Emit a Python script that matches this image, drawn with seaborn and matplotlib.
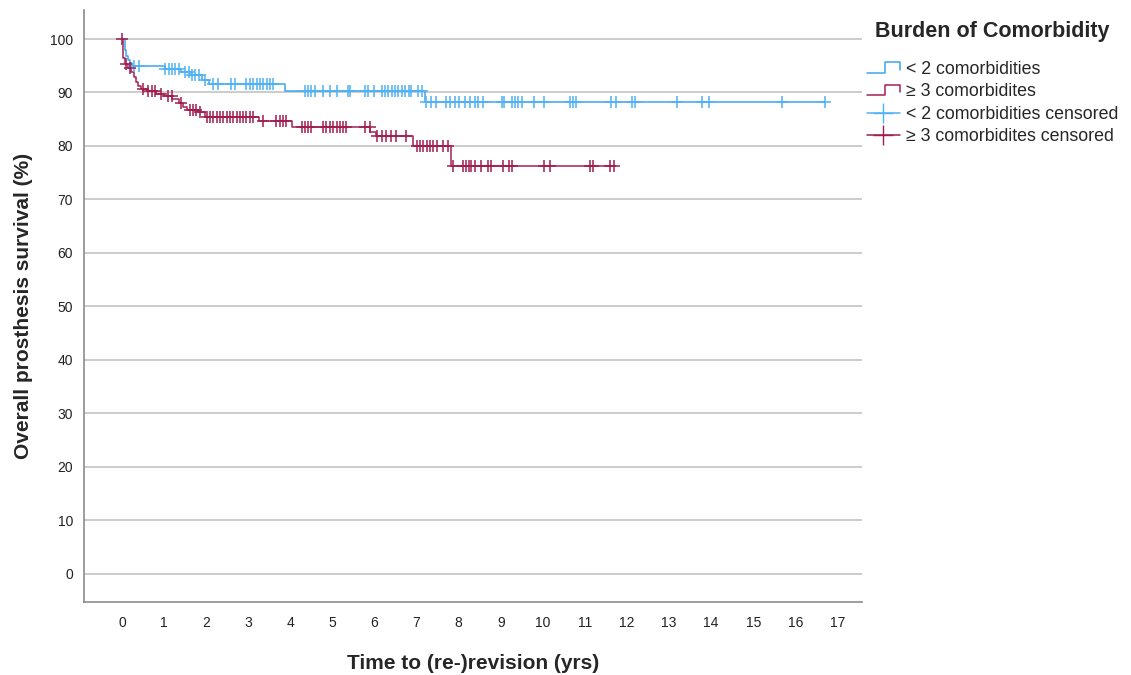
import numpy as np
import pandas as pd
import seaborn as sns
import matplotlib.pyplot as plt
from matplotlib.lines import Line2D
from matplotlib.legend_handler import HandlerLine2D

# --- data ---
# < 2 comorbidities: step times (yrs) and survival (%) after each step
low_times = [0.0, 0.08, 0.10, 0.15, 0.20, 0.25, 1.03, 1.40, 1.63, 1.90, 2.07, 3.87, 7.20]
low_surv = [100, 98.0, 96.8, 96.0, 95.5, 95.0, 94.4, 93.8, 93.3, 92.4, 91.5, 90.3, 88.2]
low_censor = [0.28, 0.40, 1.03, 1.11, 1.19, 1.27, 1.35, 1.51, 1.59, 1.66, 1.74, 1.82,
              1.98, 2.17, 2.29, 2.60, 2.68, 2.96, 3.04, 3.12, 3.20, 3.28, 3.36, 3.44,
              3.52, 3.60, 4.34, 4.42, 4.50, 4.58, 4.78, 4.94, 5.10, 5.37, 5.43, 5.77,
              5.85, 6.00, 6.17, 6.25, 6.33, 6.41, 6.49, 6.57, 6.65, 6.73, 6.81, 6.88,
              7.04, 7.12, 7.23, 7.35, 7.47, 7.71, 7.80, 7.91, 8.02, 8.14, 8.26, 8.38,
              8.45, 8.59, 9.02, 9.09, 9.28, 9.33, 9.40, 9.50, 9.78, 10.04, 10.64,
              10.71, 10.80, 11.63, 11.75, 12.11, 12.18, 13.20, 13.79, 13.94, 15.69, 16.71]

# >= 3 comorbidities
high_times = [0.0, 0.03, 0.08, 0.15, 0.22, 0.28, 0.33, 0.38, 0.45, 0.60, 0.80, 1.00,
              1.20, 1.35, 1.45, 1.55, 1.80, 1.97, 3.25, 4.05, 5.90, 6.03, 6.92, 7.83]
high_surv = [100, 96.5, 95.3, 94.5, 93.8, 92.9, 91.9, 91.2, 90.6, 90.2, 89.8, 89.3,
             88.8, 88.0, 87.3, 86.7, 86.4, 85.5, 84.6, 83.6, 82.7, 81.8, 80.0, 76.3]
high_censor = [0.0, 0.10, 0.19, 0.50, 0.62, 0.71, 0.78, 0.94, 1.09, 1.18, 1.40, 1.61,
               1.69, 1.77, 1.85, 2.02, 2.10, 2.17, 2.25, 2.33, 2.41, 2.49, 2.57, 2.65,
               2.73, 2.80, 2.88, 2.96, 3.04, 3.12, 3.36, 3.67, 3.75, 3.83, 3.91, 4.27,
               4.34, 4.42, 4.50, 4.78, 4.86, 4.94, 5.02, 5.10, 5.18, 5.26, 5.33, 5.77,
               5.89, 6.05, 6.17, 6.28, 6.40, 6.52, 6.76, 7.00, 7.08, 7.16, 7.24, 7.32,
               7.40, 7.48, 7.63, 7.75, 7.87, 8.10, 8.18, 8.25, 8.30, 8.38, 8.54, 8.70,
               8.78, 9.05, 9.20, 9.28, 10.04, 10.16, 11.11, 11.19, 11.59, 11.68]

groups = ["< 2 comorbidities", "≥ 3 comorbidites"]
line_colors = {"< 2 comorbidities": "#3aa6ee", "≥ 3 comorbidites": "#a3215a"}
cens_colors = {"< 2 comorbidities": "#4fb2f2", "≥ 3 comorbidites": "#a01e4f"}


def step_value(times, surv, t):
    idx = np.searchsorted(times, t, side="right") - 1
    return np.asarray(surv)[idx]


curves, marks = [], []
for name, tt, ss, cc in [(groups[0], low_times, low_surv, low_censor),
                         (groups[1], high_times, high_surv, high_censor)]:
    t_end = max(cc)
    curves.append(pd.DataFrame({"time": list(tt) + [t_end],
                                "surv": list(ss) + [ss[-1]], "group": name}))
    marks.append(pd.DataFrame({"time": cc, "surv": step_value(tt, ss, cc), "group": name}))
curves = pd.concat(curves, ignore_index=True)
marks = pd.concat(marks, ignore_index=True)

# --- style ---
sns.set_style("white")
plt.rcParams["font.family"] = ["Liberation Sans", "DejaVu Sans"]

fig = plt.figure(figsize=(11.31, 6.75), dpi=100)
ax = fig.add_axes([0.0743, 0.108, 0.6877, 0.877])

for name in groups:
    sub = curves[curves.group == name]
    sns.lineplot(data=sub, x="time", y="surv", ax=ax, color=line_colors[name],
                 estimator=None, sort=False, drawstyle="steps-post", lw=1.1, zorder=3)
    sub = marks[marks.group == name]
    sns.scatterplot(data=sub, x="time", y="surv", ax=ax, color=cens_colors[name],
                    marker="+", s=75, linewidth=1.1, zorder=4)

ax.set_xlim(-0.9, 17.58)
ax.set_ylim(-5.3, 105.4)
ax.set_xticks(range(0, 18))
ax.set_yticks(range(0, 101, 10))
ax.yaxis.grid(True, color="#c8c8c8", lw=1.3)
ax.set_axisbelow(True)
ax.tick_params(length=0, labelsize=10, colors="#222222")
ax.tick_params(axis="y", pad=8)
ax.tick_params(axis="x", pad=10)
sns.despine(ax=ax)
for side in ["left", "bottom"]:
    ax.spines[side].set_color("#8c8c8c")
    ax.spines[side].set_linewidth(1.2)

ax.set_xlabel("Time to (re-)revision (yrs)", fontsize=15, fontweight="bold", labelpad=17)
ax.set_ylabel("Overall prosthesis survival (%)", fontsize=15, fontweight="bold",
              labelpad=12)


class StepHandler(HandlerLine2D):
    def create_artists(self, legend, orig_handle, xdescent, ydescent, width, height,
                       fontsize, trans):
        x0, y0 = -xdescent, -ydescent
        xs = [x0, x0 + 0.55 * width, x0 + 0.55 * width, x0 + width, x0 + width]
        ys = [y0 + 0.1 * height, y0 + 0.1 * height, y0 + 0.95 * height,
              y0 + 0.95 * height, y0 + 0.35 * height]
        ln = Line2D(xs, ys, color=orig_handle.get_color(), lw=orig_handle.get_linewidth())
        ln.set_transform(trans)
        return [ln]


h_low = Line2D([], [], color=line_colors[groups[0]], lw=1.1)
h_high = Line2D([], [], color=line_colors[groups[1]], lw=1.1)
h_low_c = Line2D([], [], color=cens_colors[groups[0]], lw=1.1, marker="+", markersize=14)
h_high_c = Line2D([], [], color=cens_colors[groups[1]], lw=1.1, marker="+", markersize=14)
leg = ax.legend([h_low, h_high, h_low_c, h_high_c],
                [groups[0], groups[1], groups[0] + " censored", groups[1] + " censored"],
                handler_map={h_low: StepHandler(), h_high: StepHandler()},
                title="Burden of Comorbidity", loc="upper left",
                bbox_to_anchor=(0.765, 0.972), bbox_transform=fig.transFigure,
                frameon=False, fontsize=12.8, title_fontsize=15.5, alignment="center",
                handlelength=1.85, handletextpad=0.35, labelspacing=0.3,
                borderaxespad=0, borderpad=0.1)
leg.get_title().set_fontweight("bold")
leg._legend_box.sep = 14

fig.savefig("out.png", dpi=100)
